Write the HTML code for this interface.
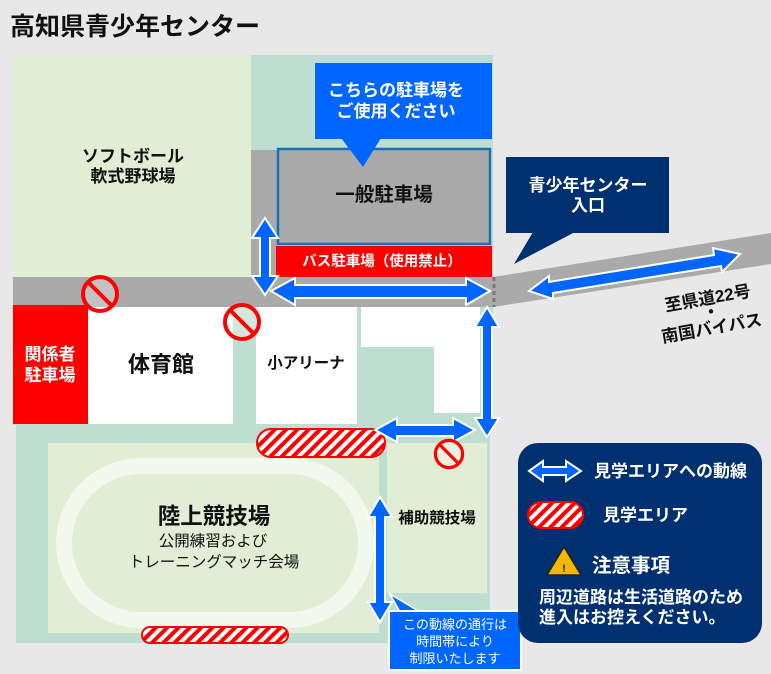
<!DOCTYPE html>
<html><head><meta charset="utf-8">
<style>
body{margin:0;background:#e8e8e8;}
svg{display:block;font-family:"Liberation Sans","Noto Sans CJK JP",sans-serif;}
</style></head><body>
<svg width="771" height="674" viewBox="0 0 771 674" xmlns="http://www.w3.org/2000/svg">
<defs>
<pattern id="hat" patternUnits="userSpaceOnUse" width="8" height="8" patternTransform="rotate(45)">
<rect width="8" height="8" fill="#fff"/><rect width="4" height="8" fill="#f00"/>
</pattern>
<g id="noentry"><circle r="17" fill="#fff" fill-opacity="0.3" stroke="#f00" stroke-width="4"/><line x1="-12" y1="-12" x2="12" y2="12" stroke="#f00" stroke-width="4"/></g>
</defs>
<rect width="771" height="674" fill="#e8e8e8"/>
<text x="10" y="35" font-size="25" font-weight="bold" fill="#111">高知県青少年センター</text>
<rect x="13" y="55" width="480" height="370" fill="#bfded2"/>
<rect x="16" y="424" width="474" height="219" fill="#bfded2"/>
<rect x="13" y="55" width="238" height="222" fill="#e1edd4"/>
<rect x="251" y="150" width="26" height="130" fill="#aaa"/>
<rect x="13" y="277" width="481" height="30" fill="#aaa"/>
<polygon points="493,277 771,233 771,264 493,307" fill="#aaa"/>
<line x1="494" y1="277" x2="494" y2="307" stroke="#777" stroke-width="3" stroke-dasharray="4,3"/>
<rect x="278" y="149" width="212" height="95" fill="#aaa" stroke="#1a6fb5" stroke-width="2.5"/>
<text x="384" y="201" font-size="19.5" font-weight="bold" text-anchor="middle" fill="#111">一般駐車場</text>
<rect x="276" y="246" width="216" height="31" fill="#f00"/>
<text x="382" y="266" font-size="14.5" font-weight="bold" text-anchor="middle" fill="#fff">バス駐車場（使用禁止）</text>
<rect x="13" y="305" width="75" height="119" fill="#f00"/>
<text x="50" y="360" font-size="17" font-weight="bold" text-anchor="middle" fill="#fff">関係者</text>
<text x="50" y="381" font-size="17" font-weight="bold" text-anchor="middle" fill="#fff">駐車場</text>
<rect x="88" y="307" width="145" height="117" fill="#fff"/>
<text x="161" y="372" font-size="22" font-weight="bold" text-anchor="middle" fill="#111">体育館</text>
<rect x="256" y="307" width="101" height="117" fill="#fff"/>
<text x="306" y="368" font-size="15.5" font-weight="bold" text-anchor="middle" fill="#111">小アリーナ</text>
<polygon points="361,307 480,307 480,413 434,413 434,347 361,347" fill="#fff"/>
<rect x="48" y="443" width="331" height="190" fill="#e1edd4"/>
<rect x="387" y="443" width="100" height="150" fill="#e1edd4"/>
<text x="437" y="523" font-size="15.5" font-weight="bold" text-anchor="middle" fill="#111">補助競技場</text>
<rect x="64" y="466" width="302" height="154" rx="77" fill="none" stroke="#f2f8ee" stroke-width="16"/>
<text x="214" y="524" font-size="22.5" font-weight="bold" text-anchor="middle" fill="#111">陸上競技場</text>
<text x="213" y="546" font-size="15.5" text-anchor="middle" fill="#111">公開練習および</text>
<text x="214" y="567" font-size="15.5" text-anchor="middle" fill="#111">トレーニングマッチ会場</text>
<text x="133" y="162" font-size="17" font-weight="bold" text-anchor="middle" fill="#111">ソフトボール</text>
<text x="133" y="182" font-size="17" font-weight="bold" text-anchor="middle" fill="#111">軟式野球場</text>
<rect x="257" y="429" width="128" height="28" rx="14" fill="url(#hat)" stroke="#f00" stroke-width="2"/>
<rect x="142" y="627" width="146" height="16" rx="8" fill="url(#hat)" stroke="#f00" stroke-width="2"/>
<g fill="#0066ff" stroke="#fff" stroke-width="2" stroke-linejoin="miter">
<polygon points="265,218 278,238 270,238 270,276 278,276 265,295 252,276 260,276 260,238 252,238"/>
<polygon points="271,291 295,278 295,285 466,285 466,278 490,291 466,305 466,298 295,298 295,305"/>
<polygon points="487,307 499,327 492,327 492,418 499,418 487,437 475,418 482,418 482,327 475,327"/>
<polygon points="375,430 397,418 397,425 453,425 453,418 475,430 453,442 453,436 397,436 397,442"/>
<polygon points="380,497 392,517 385,517 385,602 392,602 380,622 368,602 375,602 375,517 368,517"/>
<polygon points="529,291 549,276 549,282 714,255 713,248 740,254 722,272 721,266 553,293 553,299"/>
</g>
<use href="#noentry" x="100" y="294"/>
<use href="#noentry" x="242" y="322"/>
<g transform="translate(449,454) scale(0.8)"><use href="#noentry"/></g>
<rect x="315" y="63" width="177" height="76" fill="#0066ff"/>
<polygon points="341,138 381,138 363,167" fill="#0066ff"/>
<text x="396" y="96" font-size="17" font-weight="bold" text-anchor="middle" fill="#fff">こちらの駐車場を</text>
<text x="396" y="117" font-size="17" font-weight="bold" text-anchor="middle" fill="#fff">ご使用ください</text>
<rect x="506" y="157" width="163" height="76" fill="#003070"/>
<polygon points="533,232 575,232 514,264" fill="#003070"/>
<text x="588" y="191" font-size="17" font-weight="bold" text-anchor="middle" fill="#fff">青少年センター</text>
<text x="588" y="211" font-size="17" font-weight="bold" text-anchor="middle" fill="#fff">入口</text>
<g font-size="17" font-weight="bold" fill="#111">
<text x="708" y="304" transform="rotate(-10 708 300)" text-anchor="middle">至県道22号</text>
<text x="711" y="318" text-anchor="middle">・</text>
<text x="712" y="334" transform="rotate(-10 712 330)" text-anchor="middle">南国バイパス</text>
</g>
<polygon points="390,594 420,612 400,612" fill="#0066ff" stroke="#fff" stroke-width="1.5"/>
<rect x="389" y="611" width="132" height="59" fill="#0066ff" stroke="#fff" stroke-width="2"/>
<g font-size="13" fill="#fff" text-anchor="middle">
<text x="455" y="629">この動線の通行は</text>
<text x="455" y="646">時間帯により</text>
<text x="455" y="663">制限いたします</text>
</g>
<rect x="518" y="443" width="244" height="200" rx="20" fill="#003070"/>
<polygon points="529,471 543,461 543,467 566,467 566,461 581,471 566,481 566,475 543,475 543,481" fill="#0066ff" stroke="#fff" stroke-width="2"/>
<text x="594" y="477" font-size="17" font-weight="bold" fill="#fff">見学エリアへの動線</text>
<rect x="528" y="502" width="55" height="26" rx="13" fill="url(#hat)" stroke="#f00" stroke-width="2"/>
<text x="603" y="521" font-size="17" font-weight="bold" fill="#fff">見学エリア</text>
<polygon points="564,547 581,575 547,575" fill="#f5b800" stroke="#222" stroke-width="1.5"/>
<text x="564" y="572" font-size="11" font-weight="bold" text-anchor="middle" fill="#222">!</text>
<text x="592" y="572" font-size="19.5" font-weight="bold" fill="#fff">注意事項</text>
<text x="539" y="603" font-size="17" font-weight="bold" fill="#fff">周辺道路は生活道路のため</text>
<text x="539" y="623" font-size="17" font-weight="bold" fill="#fff">進入はお控えください。</text>
</svg>
</body></html>
